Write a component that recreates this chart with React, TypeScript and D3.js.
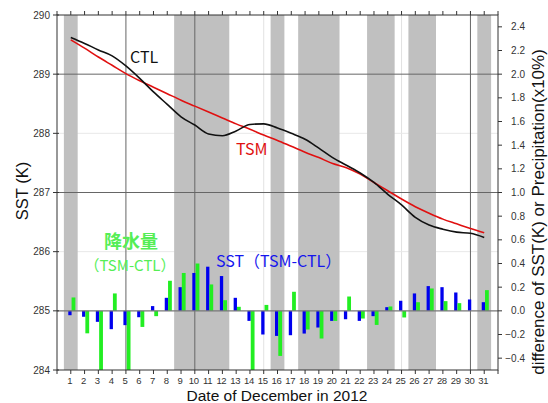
import React from 'react';
import * as d3 from 'd3';

// days of December 2012
const days = d3.range(1, 32);

// SST (K), left axis
const ctl = [289.62, 289.52, 289.41, 289.31, 289.14, 288.93, 288.70, 288.49, 288.28, 288.14,
  287.99, 287.96, 288.04, 288.15, 288.16, 288.09, 288.00, 287.90, 287.75, 287.59,
  287.46, 287.33, 287.17, 286.97, 286.79, 286.58, 286.45, 286.38, 286.33, 286.31, 286.24];
const tsm = [289.58, 289.44, 289.29, 289.15, 289.01, 288.89, 288.78, 288.67, 288.56, 288.46,
  288.36, 288.26, 288.16, 288.07, 287.97, 287.88, 287.78, 287.68, 287.59, 287.49,
  287.42, 287.31, 287.17, 287.03, 286.89, 286.76, 286.65, 286.55, 286.47, 286.39, 286.32];

// differences TSM-CTL, right axis
const sstDiff = [-0.037, -0.05, -0.093, -0.155, -0.121, -0.054, 0.04, 0.11, 0.2, 0.32,
  0.373, 0.294, 0.11, -0.085, -0.2, -0.212, -0.206, -0.192, -0.141, -0.085,
  -0.071, -0.085, -0.045, 0.031, 0.085, 0.147, 0.209, 0.2, 0.155, 0.096, 0.073];
const precipDiff = [0.113, -0.19, -0.6, 0.147, -0.6, -0.136, -0.045, 0.254, 0.32, 0.4,
  0.223, 0.09, 0.034, -0.6, 0.05, -0.381, 0.161, -0.158, -0.234, -0.085,
  0.121, -0.065, -0.119, 0.037, -0.056, 0.073, 0.189, 0.082, 0.065, 0, 0.175];

// shaded day ranges
const bands = [[1, 1], [9, 12], [16, 16], [18, 20], [23, 24], [26, 27], [31, 31]];

const leftTicks = [284, 285, 286, 287, 288, 289, 290];
const rightTicks = d3.range(-0.4, 2.41, 0.2);
const darkH = [289, 287];
const lightH = [288, 286];
const darkV = [5, 10, 30];
const lightV = [15, 20, 25];

const W = 548, H = 403;
const L = 57, R = 498, T = 15, B = 370;
const font = 'Liberation Sans, Arial, sans-serif';
const jfont = '"Noto Sans CJK JP", "Noto Sans", sans-serif';

export default function App() {
  const x = d3.scaleLinear().domain([0, 32]).range([L, R]);
  const yL = d3.scaleLinear().domain([284, 290]).range([B, T]);
  const yR = d3.scaleLinear().domain([-0.5, 2.5]).range([B, T]);

  const line = (vals: number[]) =>
    d3.line<number>().x((_, i) => x(days[i])).y(v => yL(v)).curve(d3.curveMonotoneX)(vals) || '';

  return (
    <svg width={W} height={H} style={{ position: 'absolute', left: 0, top: 0 }}>
      <defs>
        <clipPath id="plot"><rect x={L} y={T} width={R - L} height={B - T} /></clipPath>
      </defs>
      <rect x={0} y={0} width={W} height={H} fill="#fff" />
      <g clipPath="url(#plot)">
        {lightV.map(d => <line key={'lv' + d} x1={x(d)} x2={x(d)} y1={T} y2={B} stroke="#e2e2e2" />)}
        {lightH.map(v => <line key={'lh' + v} x1={L} x2={R} y1={yL(v)} y2={yL(v)} stroke="#e8e8e8" />)}
        {bands.map(([a, b]) => (
          <rect key={'b' + a} x={x(a - 0.5)} y={T} width={x(b + 0.5) - x(a - 0.5)} height={B - T} fill="#c0c0c0" />
        ))}
        {darkV.map(d => <line key={'dv' + d} x1={x(d)} x2={x(d)} y1={T} y2={B} stroke="#666" />)}
        {darkH.map(v => <line key={'dh' + v} x1={L} x2={R} y1={yL(v)} y2={yL(v)} stroke="#666" />)}
        {days.map((d, i) => (
          <rect key={'s' + d} x={x(d) - 2.5} y={Math.min(yR(sstDiff[i]), yR(0))} width={3.3}
            height={Math.abs(yR(sstDiff[i]) - yR(0))} fill="#0000ee" />
        ))}
        {days.map((d, i) => (
          <rect key={'p' + d} x={x(d) + 0.8} y={Math.min(yR(precipDiff[i]), yR(0))} width={3.8}
            height={Math.abs(yR(precipDiff[i]) - yR(0))} fill="#22ee22" />
        ))}
        <line x1={L} x2={R} y1={yR(0)} y2={yR(0)} stroke="#777" strokeWidth={1.2} />
        <path d={line(tsm)} fill="none" stroke="#e01010" strokeWidth={1.6} />
        <path d={line(ctl)} fill="none" stroke="#111" strokeWidth={1.6} />
      </g>

      {/* frame */}
      <rect x={L} y={T} width={R - L} height={B - T} fill="none" stroke="#333" />

      {/* day ticks, top and bottom */}
      {d3.range(0, 33).map(d => (
        <g key={'t' + d}>
          <line x1={x(d)} x2={x(d)} y1={T} y2={T - 4} stroke="#333" />
          <line x1={x(d)} x2={x(d)} y1={B} y2={B + 4} stroke="#333" />
        </g>
      ))}
      {days.map(d => (
        <text key={'dl' + d} x={x(d) - 1} y={384} textAnchor="middle" fontFamily={font} fontSize={9.5}
          letterSpacing={-0.3} fill="#333">{d}</text>
      ))}

      {/* left axis */}
      {leftTicks.map(v => (
        <g key={'l' + v}>
          <line x1={L - 4} x2={L + 2} y1={yL(v)} y2={yL(v)} stroke="#333" />
          <text x={50} y={yL(v) + 3.5} textAnchor="end" fontFamily={font} fontSize={10} fill="#333">{v}</text>
        </g>
      ))}

      {/* right axis */}
      {rightTicks.map(v => (
        <g key={'r' + v.toFixed(1)}>
          <line x1={R} x2={R + 4} y1={yR(v)} y2={yR(v)} stroke="#333" />
          <text x={525} y={yR(v) + 3.5} textAnchor="end" fontFamily={font} fontSize={10} fill="#333">
            {v < -0.01 ? '\u2212' + Math.abs(v).toFixed(1) : Math.abs(v).toFixed(1)}
          </text>
        </g>
      ))}

      {/* axis titles */}
      <text transform="translate(28,191) rotate(-90)" textAnchor="middle" fontFamily={font} fontSize={16.5} fill="#111">SST (K)</text>
      <text transform="translate(544,212) rotate(-90)" textAnchor="middle" fontFamily={font} fontSize={17} fill="#111">difference of SST(K) or Precipitation(x10%)</text>
      <text x={277} y={401} textAnchor="middle" fontFamily={font} fontSize={15.5} fill="#111">Date of December in 2012</text>

      {/* in-plot labels */}
      <text x={130} y={63} fontFamily={jfont} fontSize={16} fill="#111">CTL</text>
      <text x={236} y={155} fontFamily={jfont} fontSize={16} fill="#e01010">TSM</text>
      <text x={131} y={248} textAnchor="middle" fontFamily={jfont} fontSize={18} fontWeight="bold" fill="#55ee55">降水量</text>
      <text x={130} y={271} textAnchor="middle" fontFamily={jfont} fontSize={15} fill="#55ee55">（TSM-CTL）</text>
      <text x={216} y={267} fontFamily={jfont} fontSize={16} fill="#1515ee">SST（TSM-CTL）</text>
    </svg>
  );
}
